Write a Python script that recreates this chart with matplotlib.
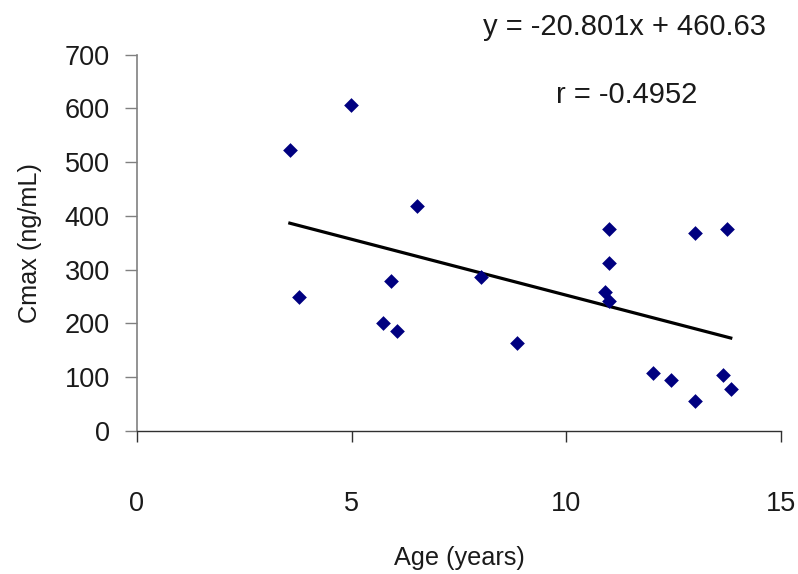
import matplotlib
matplotlib.use("Agg")
import matplotlib.pyplot as plt
import numpy as np

plt.rcParams['font.family'] = ['Liberation Sans', 'DejaVu Sans']

# Data
age = [3.56, 3.77, 4.98, 5.74, 5.91, 6.06, 6.52, 8.01, 8.84,
       10.99, 10.99, 10.89, 10.99, 12.02, 12.44, 12.99, 12.99,
       13.74, 13.64, 13.83]
cmax = [522, 249, 606, 200, 279, 186, 418, 286, 164,
        376, 312, 258, 242, 108, 94, 369, 56,
        376, 105, 79]
slope = -20.801
intercept = 460.63
x_ticks = [0, 5, 10, 15]
y_ticks = [0, 100, 200, 300, 400, 500, 600, 700]
equation_text = "y = -20.801x + 460.63"
r_text = "r = -0.4952"
x_label = "Age (years)"
y_label = "Cmax (ng/mL)"

fig = plt.figure(figsize=(7.98, 5.74), dpi=100)
ax = fig.add_axes([137/798, 1 - 431/574, (781-137)/798, (431-54.7)/574])

ax.scatter(age, cmax, marker='D', s=7.5**2, color='#000080', zorder=3, linewidths=0)
xl = np.array([min(age), max(age)])
ax.plot(xl, slope * xl + intercept, color='black', lw=2.3, zorder=2)

ax.set_xlim(0, 15)
ax.set_ylim(0, 700)
ax.set_xticks(x_ticks)
ax.set_yticks(y_ticks)
ax.set_xticklabels([str(v) for v in x_ticks])
ax.set_yticklabels([str(v) for v in y_ticks])

for s in ['top', 'right']:
    ax.spines[s].set_visible(False)
ax.spines['left'].set_color('#808080')
ax.spines['left'].set_linewidth(1.2)
ax.spines['bottom'].set_color('#303030')
ax.spines['bottom'].set_linewidth(1.0)

ax.tick_params(axis='y', direction='out', length=8.6, width=1.0, color='#808080',
               pad=11, labelsize=19.5, labelcolor='#1a1a1a')
ax.tick_params(axis='x', direction='out', length=8, width=1.0, color='#303030',
               pad=35, labelsize=19.5, labelcolor='#1a1a1a')

ax.set_xlabel(x_label, fontsize=18.2, color='#1a1a1a', labelpad=21)
ax.set_ylabel(y_label, fontsize=18.2, color='#1a1a1a', labelpad=16)

fig.text(483/798, 1 - 35/574, equation_text, fontsize=21, color='#1a1a1a',
         ha='left', va='baseline')
fig.text(556/798, 1 - 103/574, r_text, fontsize=21, color='#1a1a1a',
         ha='left', va='baseline')

fig.savefig('out.png', dpi=100)
